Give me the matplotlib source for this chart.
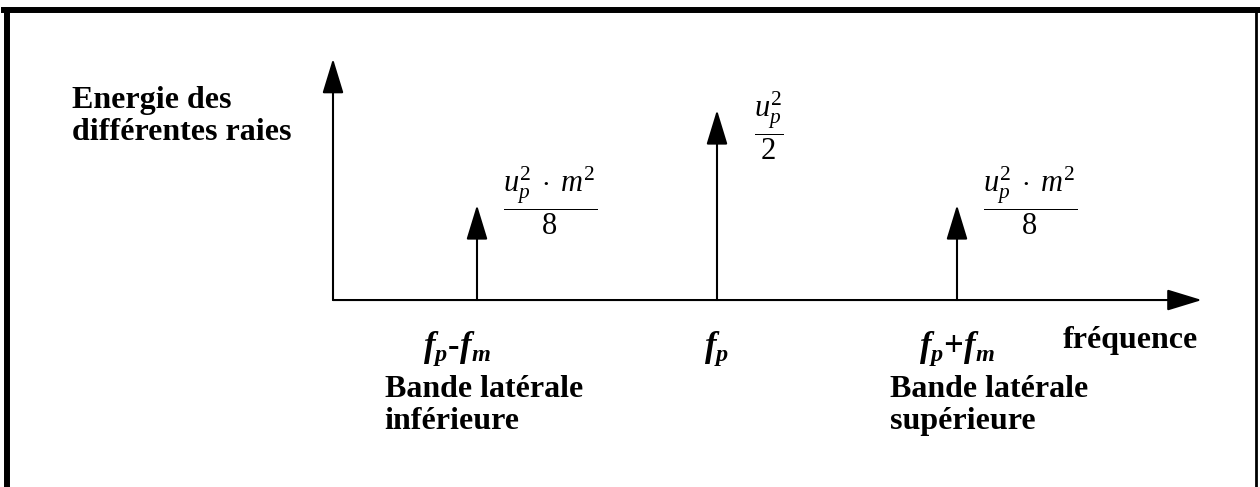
import matplotlib
matplotlib.use("Agg")
import matplotlib.pyplot as plt
from matplotlib.lines import Line2D

plt.rcParams['font.family'] = 'Liberation Serif'
plt.rcParams['mathtext.fontset'] = 'custom'
plt.rcParams['mathtext.rm'] = 'Liberation Serif'
plt.rcParams['mathtext.it'] = 'Liberation Serif:italic'
plt.rcParams['mathtext.bf'] = 'Liberation Serif:bold'
plt.rcParams['mathtext.bfit'] = 'Liberation Serif:italic:bold'

# raies du spectre AM (frequence en unites de fm autour de fp)
freqs = [-1, 0, 1]
energies = [0.5, 1.0, 0.5]
freq_labels = [r'$\mathbfit{f_p}$-$\mathbfit{f_m}$',
               r'$\mathbfit{f_p}$',
               r'$\mathbfit{f_p}$+$\mathbfit{f_m}$']
energy_labels = [r'$\dfrac{u_p^2\;\cdot\;m^2}{8}$',
                 r'$\dfrac{u_p^2}{2}$',
                 r'$\dfrac{u_p^2\;\cdot\;m^2}{8}$']
band_labels = [['Bande latérale', 'inférieure'], ['Bande latérale', 'supérieure']]
band_pos = [-1.385, 0.72]
ylabel_lines = ['Energie des', 'différentes raies']

fig = plt.figure(figsize=(12.6, 4.87), dpi=100)
ax = fig.add_axes([0, 0, 1, 1])
ax.set_xlim(-2.9875, 2.2625)
ax.set_ylim(-0.984, 1.579)
ax.axis('off')

x0 = -1.6      # origine des axes
dy = 0.168     # interligne
head = dict(arrowstyle='-|>,head_length=1.08,head_width=0.33', mutation_scale=20,
            lw=1.5, color='black', shrinkA=0, shrinkB=0)

# axes
ax.annotate('', xy=(2.02, 0), xytext=(x0, 0), arrowprops=head)
ax.annotate('', xy=(x0, 1.27), xytext=(x0, 0), arrowprops=head)

# raies
for f, e in zip(freqs, energies):
    ax.annotate('', xy=(f, e), xytext=(f, 0), arrowprops=head)

for f, e, lab in zip(freqs, energies, energy_labels):
    if f == 0:
        ax.text(f + 0.155, e - 0.085, lab, fontsize=22, ha='left', va='center')
    else:
        ax.text(f + 0.11, e + 0.02, lab, fontsize=22, ha='left', va='center')

for f, lab in zip(freqs, freq_labels):
    shift = -0.085 if f < 0 else 0.0
    ax.text(f + shift, -0.295, lab, fontsize=25, fontweight='bold',
            ha='center', va='baseline')

ax.text(1.44, -0.253, 'fréquence', fontsize=23, fontweight='bold',
        ha='left', va='baseline')

for x, lines in zip(band_pos, band_labels):
    for i, line in enumerate(lines):
        ax.text(x, -0.51 - i * dy, line, fontsize=23, fontweight='bold',
                ha='left', va='baseline')

for i, line in enumerate(ylabel_lines):
    ax.text(-2.6875, 1.01 - i * dy, line, fontsize=23, fontweight='bold',
            ha='left', va='baseline')

# cadre
fig.add_artist(Line2D([4 / 1260, 1258 / 1260], [1 - 10 / 487] * 2, lw=4.3,
                      color='black', transform=fig.transFigure))
fig.add_artist(Line2D([7 / 1260] * 2, [0, 1 - 10 / 487], lw=4.3,
                      color='black', transform=fig.transFigure))
fig.add_artist(Line2D([1256 / 1260] * 2, [0, 1 - 10 / 487], lw=2,
                      color='black', transform=fig.transFigure))

fig.savefig('out.png', dpi=100)
